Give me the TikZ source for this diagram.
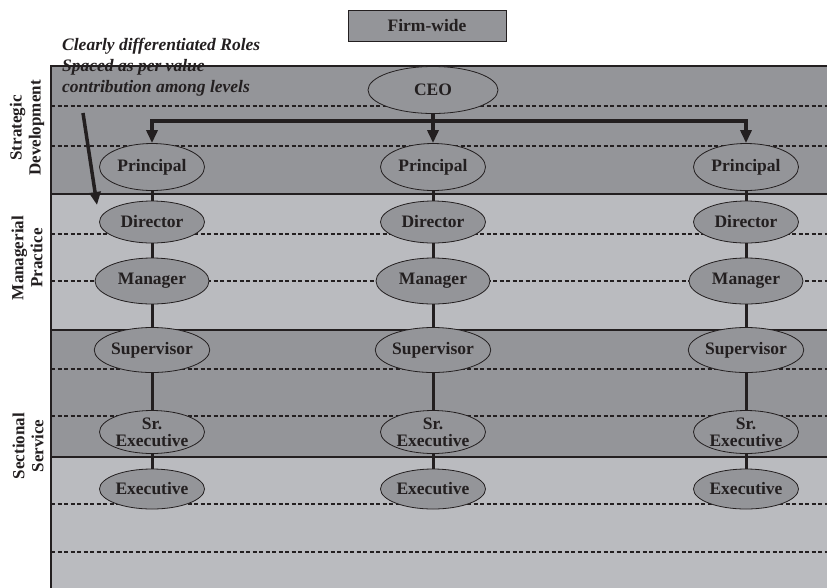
\documentclass[tikz,border=0pt]{standalone}
\usepackage{fontspec}
\setmainfont{Liberation Serif}
\usetikzlibrary{arrows.meta,shapes.geometric}
\definecolor{bandDark}{HTML}{949599}
\definecolor{bandLight}{HTML}{BABBBF}
\definecolor{ink}{HTML}{231F20}

\begin{document}
\begin{tikzpicture}[x=1pt,y=-1pt,
  role/.style={ellipse,draw=ink,line width=.8pt,fill=bandDark,inner sep=0pt,
    minimum width=105pt,minimum height=44pt,align=center,text=ink,
    font=\fontsize{17.5}{17}\selectfont\bfseries},
  band/.style={draw=ink,line width=1.3pt},
  level/.style={draw=ink,line width=1.3pt,dash pattern=on 4pt off 2.5pt},
  link/.style={draw=ink,line width=3pt},
  push/.style={draw=ink,line width=3.5pt,-{Triangle[length=13pt,width=11pt]}},
  side/.style={rotate=90,align=center,text=ink,font=\fontsize{17}{19}\selectfont\bfseries}]
\useasboundingbox (0,0) rectangle (827,587);
\fill[white] (0,0) rectangle (827,587);

\filldraw[band,fill=bandDark] (51,66) rectangle (835,194);
\filldraw[band,fill=bandLight] (51,194) rectangle (835,330);
\filldraw[band,fill=bandDark] (51,330) rectangle (835,457);
\filldraw[band,fill=bandLight] (51,457) rectangle (835,595);
\foreach \y in {106,146,234,281,369,416,504,552}
  \draw[level] (51,\y) -- (835,\y);

\node[draw=ink,line width=1pt,fill=bandDark,minimum width=158pt,minimum height=31pt,
  inner sep=0pt,text=ink,font=\fontsize{17.5}{17}\selectfont\bfseries] (firm) at (427,25.5) {Firm-wide};
\node[anchor=north west,inner sep=0pt,align=left,text=ink,
  font=\fontsize{17.5}{21}\selectfont\bfseries\itshape] (note) at (62,38)
  {Clearly differentiated Roles\\Spaced as per value\\contribution among levels};

\node[side] (strat) at (27,128) {Strategic\\Development};
\node[side] (mgr) at (27,258) {Managerial\\Practice};
\node[side] (sect) at (28,446) {Sectional\\Service};

\node[role,minimum width=130pt,minimum height=47pt] (ceo) at (433,90) {CEO};

\foreach \i/\x in {1/152,2/433,3/746}{
  \node[role,minimum height=47pt] (p\i) at (\x,167) {Principal};
  \node[role,minimum height=42pt] (d\i) at (\x,222) {Director};
  \node[role,minimum width=114pt,minimum height=46pt] (m\i) at (\x,281) {Manager};
  \node[role,minimum width=114pt,minimum height=45pt] (s\i) at (\x,350) {Supervisor};
  \node[role,minimum height=43pt] (r\i) at (\x,432) {Sr.\\Executive};
  \node[role,minimum height=40pt] (e\i) at (\x,489) {Executive};
  \draw[link] (p\i) -- (d\i) (d\i) -- (m\i) (m\i) -- (s\i) (s\i) -- (r\i) (r\i) -- (e\i);
}

\coordinate (bar) at (433,121);
\draw[push] (ceo) -- (p2);
\draw[push,{Triangle[length=13pt,width=11pt]}-{Triangle[length=13pt,width=11pt]}]
  (p1.north) |- (bar) -| (p3.north);

\coordinate (tail) at (83,113);
\coordinate (tip) at (97,205);
\draw[push] (tail) -- (tip);
\end{tikzpicture}
\end{document}
